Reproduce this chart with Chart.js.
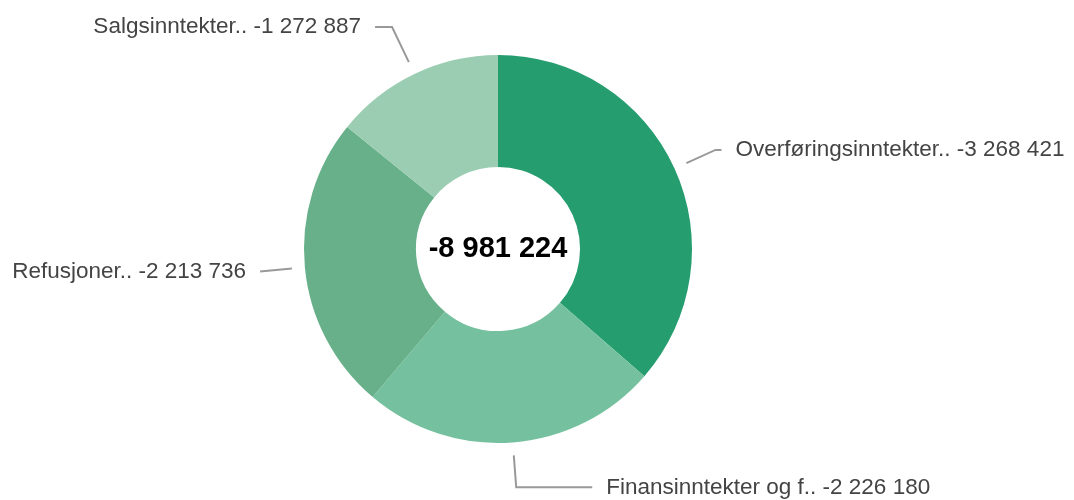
<!DOCTYPE html>
<html>
<head>
<meta charset="utf-8">
<script src="https://cdn.jsdelivr.net/npm/chart.js@4.4.1/dist/chart.umd.min.js"></script>
<style>
  html, body { margin: 0; padding: 0; background: #fff; }
  #wrap { width: 1074px; height: 500px; }
</style>
</head>
<body>
<div id="wrap"><canvas id="donut" width="1074" height="500"></canvas></div>
<script>
// Inntekter per kategori (kr)
const categories = ['Overføringsinntekter..', 'Finansinntekter og f..', 'Refusjoner..', 'Salgsinntekter..'];
const amounts = [-3268421, -2226180, -2213736, -1272887];
const sliceColors = ['#259d6f', '#75c19f', '#67b08a', '#9acdb1'];

// leader line: radial length past the arc, horizontal tail
const leaderRadial = [45, 45, 45, 52];
const leaderTail = [6, 76, 0, 17];

const FONT = '"Liberation Sans", Arial, sans-serif';

const fmt = (v) => {
    const sign = v < 0 ? '-' : '';
    return sign + Math.abs(v).toString().replace(/\B(?=(\d{3})+(?!\d))/g, ' ');
};

const total = amounts.reduce((a, b) => a + b, 0);

const labelPlugin = {
    id: 'sliceLabels',
    afterDraw(chart) {
        const ctx = chart.ctx;
        const meta = chart.getDatasetMeta(0);
        ctx.save();
        meta.data.forEach((arc, i) => {
            const { x, y, startAngle, endAngle, outerRadius } = arc.getProps(['x', 'y', 'startAngle', 'endAngle', 'outerRadius'], true);
            const mid = (startAngle + endAngle) / 2;
            const cos = Math.cos(mid), sin = Math.sin(mid);
            const r0 = outerRadius + 13;
            const r1 = outerRadius + leaderRadial[i];
            const x0 = x + cos * r0, y0 = y + sin * r0;
            const x1 = x + cos * r1, y1 = y + sin * r1;
            const dir = cos >= 0 ? 1 : -1;
            const x2 = x1 + dir * leaderTail[i];

            ctx.strokeStyle = '#999';
            ctx.lineWidth = 2;
            ctx.beginPath();
            ctx.moveTo(x0, y0);
            ctx.lineTo(x1, y1);
            ctx.lineTo(x2, y1);
            ctx.stroke();

            ctx.fillStyle = '#444';
            ctx.font = '22.5px ' + FONT;
            ctx.textBaseline = 'middle';
            ctx.textAlign = dir > 0 ? 'left' : 'right';
            ctx.fillText(categories[i] + ' ' + fmt(amounts[i]), x2 + dir * 14, y1);
        });

        // sum in the hole
        const c = meta.data[0];
        ctx.fillStyle = '#000';
        ctx.font = 'bold 29px ' + FONT;
        ctx.textAlign = 'center';
        ctx.textBaseline = 'middle';
        ctx.fillText(fmt(total), c.x, c.y);
        ctx.restore();
    }
};

new Chart(document.getElementById('donut'), {
    type: 'doughnut',
    data: {
        labels: categories,
        datasets: [{
            data: amounts.map(Math.abs),
            backgroundColor: sliceColors,
            borderWidth: 0,
            hoverOffset: 0
        }]
    },
    options: {
        responsive: false,
        animation: false,
        cutout: '42.3%',
        layout: { padding: { top: 55, bottom: 57, left: 304, right: 382 } },
        plugins: {
            legend: { display: false },
            tooltip: { enabled: false }
        }
    },
    plugins: [labelPlugin]
});
</script>
</body>
</html>
